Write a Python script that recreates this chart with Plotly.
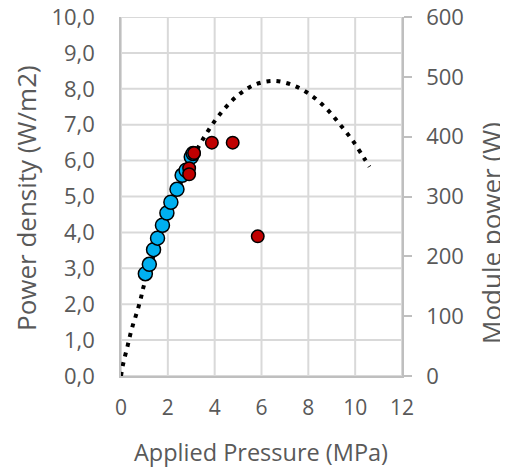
import plotly.graph_objects as go

# Dotted model curve (power density vs applied pressure)
curve_x = [0, 0.07, 0.17, 0.28, 0.38, 0.49, 0.62, 0.75, 0.86, 0.96, 1.5, 2.0, 2.5, 3.0,
           3.37, 3.83, 4.36, 4.96, 5.69, 6.53, 7.38, 8.14, 8.80, 9.36, 9.90, 10.38, 10.61]
curve_y = [0, 0.27, 0.55, 0.83, 1.11, 1.38, 1.65, 1.93, 2.20, 2.48, 3.55, 4.45, 5.30, 6.00,
           6.45, 6.94, 7.40, 7.80, 8.11, 8.22, 8.09, 7.81, 7.43, 7.00, 6.55, 6.07, 5.83]

# Blue measured points
blue_x = [1.04, 1.21, 1.39, 1.56, 1.77, 1.96, 2.13, 2.39, 2.61, 2.78, 3.00, 3.08]
blue_y = [2.85, 3.11, 3.52, 3.84, 4.20, 4.54, 4.84, 5.20, 5.59, 5.73, 6.10, 6.20]

# Red measured points
red_x = [3.12, 2.91, 2.91, 3.88, 4.77, 5.84]
red_y = [6.21, 5.79, 5.62, 6.50, 6.50, 3.89]

x_ticks = [0, 2, 4, 6, 8, 10, 12]
y_ticks = [0, 1, 2, 3, 4, 5, 6, 7, 8, 9, 10]
y_tick_labels = ["0,0", "1,0", "2,0", "3,0", "4,0", "5,0", "6,0", "7,0", "8,0", "9,0", "10,0"]
y2_ticks = [0, 100, 200, 300, 400, 500, 600]

FONT = "Open Sans"
TXT = "#595959"
GRID = "rgb(217,217,217)"
AXL = "rgb(191,191,191)"
CLEAR = "rgba(0,0,0,0)"

fig = go.Figure()
fig.add_trace(go.Scatter(x=curve_x, y=curve_y, mode="lines", line_shape="spline",
                         line=dict(color="black", width=4, dash="4px,6px"),
                         showlegend=False, hoverinfo="skip"))
fig.add_trace(go.Scatter(x=blue_x, y=blue_y, mode="markers",
                         marker=dict(size=14, color="#00B0F0", line=dict(color="black", width=1.5)),
                         showlegend=False))
fig.add_trace(go.Scatter(x=red_x, y=red_y, mode="markers",
                         marker=dict(size=12.5, color="#C00000", line=dict(color="black", width=1.5)),
                         showlegend=False))
# empty trace on the right-hand axis
fig.add_trace(go.Scatter(x=[None], y=[None], yaxis="y2", showlegend=False, hoverinfo="skip"))

# page is offset by the 8px body margin -> figure is 500x462, laid out in page pixels minus 8
OFF = 8
W, H = 500, 462
L, R, T, B = 113, 394, 9, 368          # plot area in figure pixels

fig.update_layout(
    template="none",
    width=W, height=H,
    margin=dict(l=L, r=W - R, t=T, b=H - B, pad=0, autoexpand=False),
    paper_bgcolor="white", plot_bgcolor="white",
    showlegend=False,
    font=dict(family=FONT, color=TXT, size=20),
    xaxis=dict(range=[0, 12], tickvals=x_ticks,
               showgrid=True, gridcolor=GRID, gridwidth=1,
               showline=True, linecolor=AXL, linewidth=1.5, zeroline=False, automargin=False,
               ticks="outside", ticklen=12, tickcolor=CLEAR, ticklabeloverflow="allow",
               tickfont=dict(size=21, family=FONT, color=TXT)),
    yaxis=dict(range=[0, 10], tickvals=y_ticks, ticktext=y_tick_labels,
               showgrid=True, gridcolor=GRID, gridwidth=1,
               showline=True, linecolor=AXL, linewidth=1.5, zeroline=False,
               automargin=False, ticks="outside", ticklen=20, tickcolor=CLEAR,
               ticklabeloverflow="allow",
               tickfont=dict(size=22, family=FONT, color=TXT)),
    yaxis2=dict(range=[0, 600], tickvals=y2_ticks, overlaying="y",
                side="right", showgrid=False,
                showline=True, linecolor=AXL, linewidth=1.5, zeroline=False, automargin=False,
                ticks="outside", ticklen=8, tickwidth=1.5, tickcolor=AXL, ticklabelstandoff=10,
                ticklabeloverflow="allow",
                tickfont=dict(size=22, family=FONT, color=TXT)),
)

# gridlines at the tick values, placed through the axes' own scales
for xv in x_ticks:
    fig.add_shape(type="line", xref="x", yref="paper", x0=xv, x1=xv, y0=0, y1=1,
                  line=dict(color=GRID, width=2), layer="below")
for yv in y_ticks:
    fig.add_shape(type="line", xref="paper", yref="y", x0=0, x1=1, y0=yv, y1=yv,
                  line=dict(color=GRID, width=2), layer="below")

pw, ph = R - L, B - T
def px(x):   # page pixel -> paper
    return (x - OFF - L) / pw
def py(y):
    return (B - (y - OFF)) / ph

fig.add_annotation(text="Applied Pressure (MPa)", xref="paper", yref="paper",
                   x=px(261), y=py(452), xanchor="center", yanchor="middle", showarrow=False,
                   font=dict(size=23.5, family=FONT, color=TXT))
fig.add_annotation(text="Power density (W/m2)", xref="paper", yref="paper",
                   x=px(26), y=py(198), xanchor="center", yanchor="middle", showarrow=False,
                   textangle=-90, font=dict(size=26, family=FONT, color=TXT))
fig.add_annotation(text="Module power (W)", xref="paper", yref="paper",
                   x=px(491), y=py(233), xanchor="center", yanchor="middle", showarrow=False,
                   textangle=-90, font=dict(size=26, family=FONT, color=TXT))

fig.write_html("out.html")
